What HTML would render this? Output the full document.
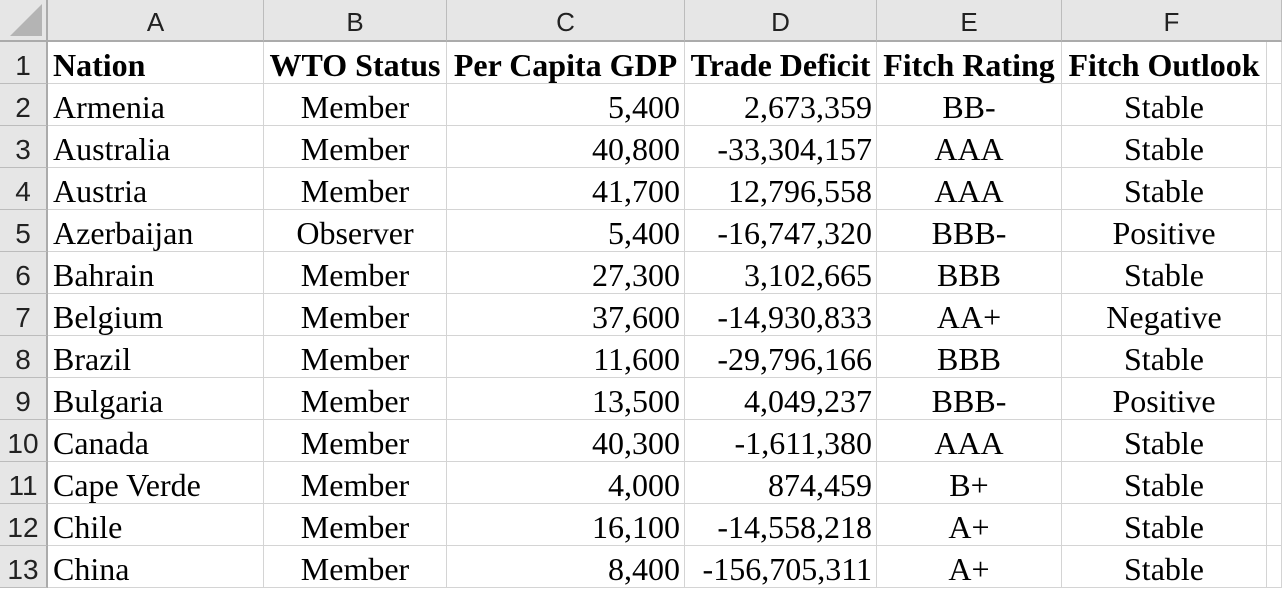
<!DOCTYPE html>
<html><head><meta charset="utf-8"><style>
body{margin:0;width:1282px;height:591px;overflow:hidden;background:#fff;position:relative;font-family:"Liberation Serif",serif}
.c{position:absolute;box-sizing:border-box;border-right:1px solid #d4d4d4;border-bottom:1px solid #d4d4d4;font-size:32px;line-height:46px;white-space:nowrap;overflow:visible;color:#000}
.h{background:#e6e6e6;font-family:"Liberation Sans",sans-serif;font-size:26px;line-height:44px;text-align:center;color:#222;border-color:#bcbcbc}
.rh{font-size:28px;line-height:47px}
.b{font-weight:bold}
</style></head><body>
<div class="c h" style="left:0;top:0;width:48px;height:42px;border-bottom:2px solid #ababab;border-right:2px solid #ababab"><svg width="44" height="38" style="position:absolute;left:0;top:0"><polygon points="42,4 42,36 10,36" fill="#b4b4b4"/></svg></div>
<script>
const cols=[48,264,447,685,877,1062,1267];
const letters=['A','B','C','D','E','F'];
const aligns=['left','center','right','right','center','center'];
const rows=[
['Nation','WTO Status','Per Capita GDP','Trade Deficit','Fitch Rating','Fitch Outlook'],
['Armenia','Member','5,400','2,673,359','BB-','Stable'],
['Australia','Member','40,800','-33,304,157','AAA','Stable'],
['Austria','Member','41,700','12,796,558','AAA','Stable'],
['Azerbaijan','Observer','5,400','-16,747,320','BBB-','Positive'],
['Bahrain','Member','27,300','3,102,665','BBB','Stable'],
['Belgium','Member','37,600','-14,930,833','AA+','Negative'],
['Brazil','Member','11,600','-29,796,166','BBB','Stable'],
['Bulgaria','Member','13,500','4,049,237','BBB-','Positive'],
['Canada','Member','40,300','-1,611,380','AAA','Stable'],
['Cape Verde','Member','4,000','874,459','B+','Stable'],
['Chile','Member','16,100','-14,558,218','A+','Stable'],
['China','Member','8,400','-156,705,311','A+','Stable']];
function mk(cls,x,y,w,h,t,al){const d=document.createElement('div');d.className=cls;d.style.cssText=`left:${x}px;top:${y}px;width:${w}px;height:${h}px;`+(al?`text-align:${al};`:'');d.textContent=t;document.body.appendChild(d);return d;}
for(let i=0;i<6;i++){
 const d=mk('c h',cols[i],0,cols[i+1]-cols[i]+(i==5?15:0),42,letters[i]);
 d.style.borderBottom='2px solid #ababab';
 
 
}
for(let r=0;r<rows.length;r++){
 const y=42+r*42;
 const rh=mk('c h rh',0,y,48,42,String(r+1));
 rh.style.borderRight='2px solid #ababab';
 
 
 for(let i=0;i<6;i++){
  const al=r==0?(i==0?'left':'center'):aligns[i];
  const d=mk('c'+(r==0?' b':''),cols[i],y,cols[i+1]-cols[i],42,rows[r][i],al);
  d.style.padding=al=='left'?'0 0 0 5px':al=='right'?'0 4px 0 0':'0';
  
  
 }
 const e=mk('c',1267,y,15,42,'');
 
 
}
</script>
</body></html>
